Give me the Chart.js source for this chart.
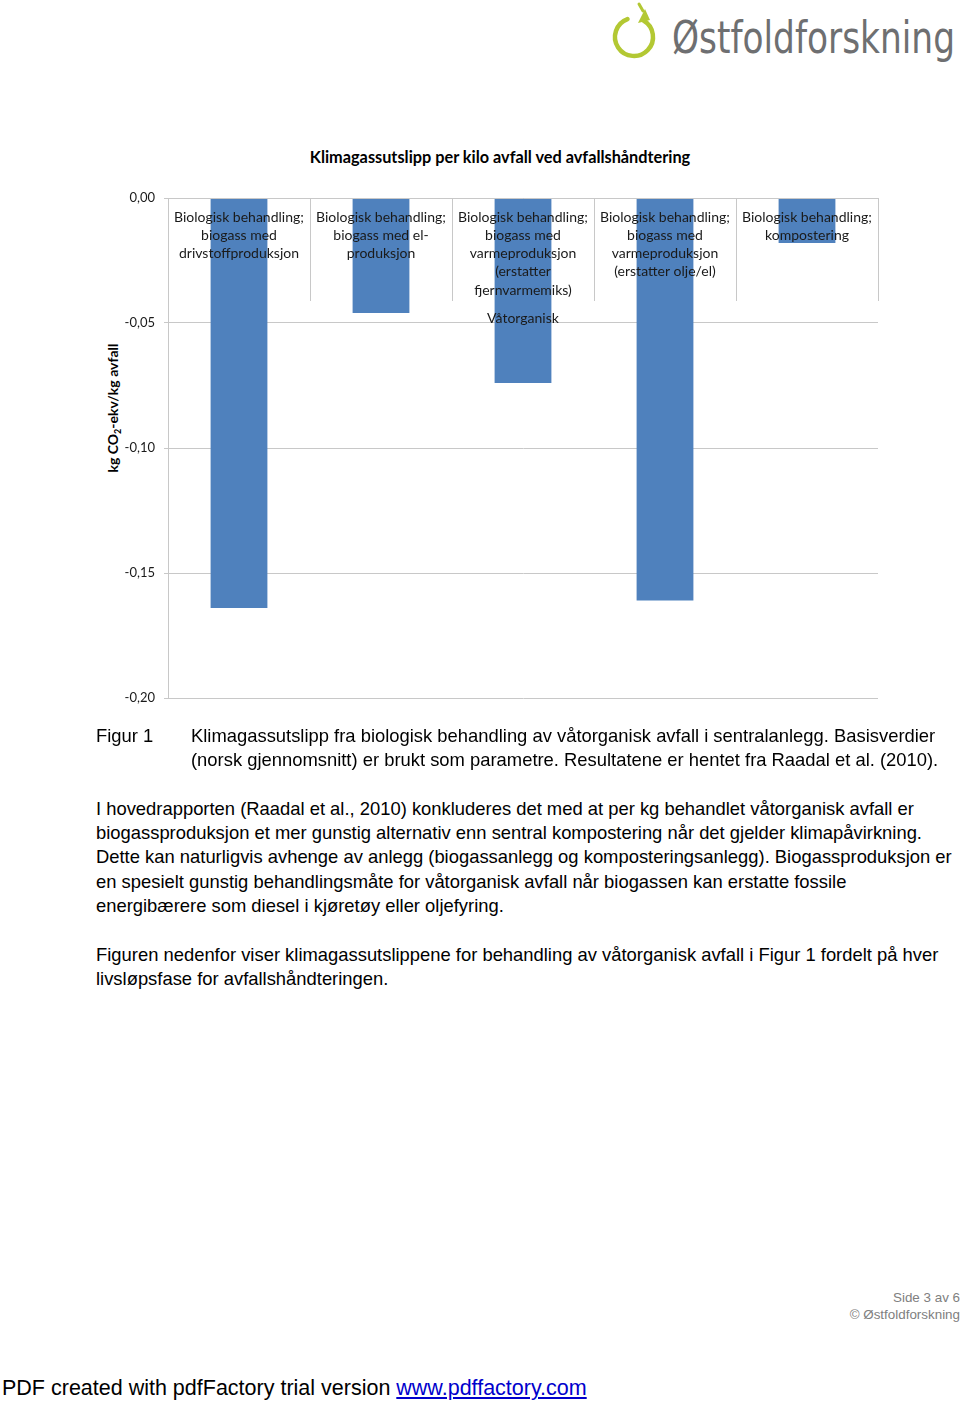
<!DOCTYPE html>
<html><head><meta charset="utf-8">
<script src="https://cdn.jsdelivr.net/npm/chart.js@4.4.1/dist/chart.umd.min.js"></script>
<style>
html,body{margin:0;padding:0;background:#fff;}
body{width:960px;height:1402px;position:relative;overflow:hidden;font-family:"Liberation Sans",Arial,sans-serif;color:#000;}
.abs{position:absolute;white-space:nowrap;}
.txt{font-size:18.4px;line-height:24px;height:24px;}
</style></head><body>

<svg class="abs" style="left:600px;top:0" width="360" height="80" viewBox="0 0 360 80">
  <path d="M27.5 19.1 A19 19 0 1 0 43.5 20.5" fill="none" stroke="#b3c833" stroke-width="4.5" stroke-linecap="round"/>
  <polygon points="38,23 50,20 45,9" fill="#b3c833"/>
  <path d="M39 4 L43 11" stroke="#b3c833" stroke-width="3" stroke-linecap="round"/>
  <text x="72" y="53" font-family="DejaVu Sans Condensed, DejaVu Sans, sans-serif" font-size="45" fill="#6e6f71" textLength="283" lengthAdjust="spacingAndGlyphs">Østfoldforskning</text>
</svg>

<div class="abs" style="left:0;width:1000px;top:147px;text-align:center;font-family:Lato,sans-serif;font-weight:bold;font-size:16.3px;line-height:20px;color:#000;">Klimagassutslipp per kilo avfall ved avfallshåndtering</div>

<div class="abs" style="left:113px;top:408px;width:0;height:0;">
  <div style="position:absolute;left:-100px;top:-10px;width:200px;height:20px;line-height:20px;text-align:center;transform:rotate(-90deg);font-family:Lato,sans-serif;font-weight:bold;font-size:14px;color:#000;">kg CO<sub style="font-size:9px;vertical-align:-3px;line-height:0">2</sub>-ekv/kg avfall</div>
</div>

<div class="abs" style="left:0;top:130px;width:960px;height:600px;"><canvas id="c"></canvas></div>

<div class="abs txt" style="left:96px;top:724px;">Figur 1</div>
<div class="abs txt" style="left:191px;top:724px;">Klimagassutslipp fra biologisk behandling av våtorganisk avfall i sentralanlegg. Basisverdier</div>
<div class="abs txt" style="left:191px;top:748px;">(norsk gjennomsnitt) er brukt som parametre. Resultatene er hentet fra Raadal et al. (2010).</div>

<div class="abs txt" style="left:96px;top:797px;">I hovedrapporten (Raadal et al., 2010) konkluderes det med at per kg behandlet våtorganisk avfall er</div>
<div class="abs txt" style="left:96px;top:821px;">biogassproduksjon et mer gunstig alternativ enn sentral kompostering når det gjelder klimapåvirkning.</div>
<div class="abs txt" style="left:96px;top:845px;">Dette kan naturligvis avhenge av anlegg (biogassanlegg og komposteringsanlegg). Biogassproduksjon er</div>
<div class="abs txt" style="left:96px;top:870px;">en spesielt gunstig behandlingsmåte for våtorganisk avfall når biogassen kan erstatte fossile</div>
<div class="abs txt" style="left:96px;top:894px;">energibærere som diesel i kjøretøy eller oljefyring.</div>

<div class="abs txt" style="left:96px;top:943px;">Figuren nedenfor viser klimagassutslippene for behandling av våtorganisk avfall i Figur 1 fordelt på hver</div>
<div class="abs txt" style="left:96px;top:967px;">livsløpsfase for avfallshåndteringen.</div>

<div class="abs" style="right:0;top:1290px;font-size:13.4px;line-height:16px;color:#808080;text-align:right;">Side 3 av 6</div>
<div class="abs" style="right:0;top:1307px;font-size:13.4px;line-height:16px;color:#808080;text-align:right;">© Østfoldforskning</div>

<div class="abs" style="left:2px;top:1375px;font-size:21.5px;line-height:26px;color:#000;">PDF created with pdfFactory trial version <span style="color:#0000cc;text-decoration:underline;">www.pdffactory.com</span></div>

<script>
const categories = [
  ["Biologisk behandling;", "biogass med", "drivstoffproduksjon"],
  ["Biologisk behandling;", "biogass med el-", "produksjon"],
  ["Biologisk behandling;", "biogass med", "varmeproduksjon", "(erstatter", "fjernvarmemiks)"],
  ["Biologisk behandling;", "biogass med", "varmeproduksjon", "(erstatter olje/el)"],
  ["Biologisk behandling;", "kompostering"]
];
const groupLabel = "Våtorganisk";
const values = [-0.164, -0.046, -0.074, -0.161, -0.018];
const yTicks = [0, -0.05, -0.10, -0.15, -0.20];

const gridColor = '#c8c8c8';
const textColor = '#1a1a1a';

new Chart(document.getElementById('c'), {
  type: 'bar',
  data: {
    labels: categories,
    datasets: [{
      data: values,
      backgroundColor: '#4f81bd',
      borderWidth: 0,
      barPercentage: 0.4,
      categoryPercentage: 1
    }]
  },
  options: {
    responsive: true,
    maintainAspectRatio: false,
    animation: false,
    layout: { padding: { left: 0, right: 82, top: 0, bottom: 32 } },
    plugins: { legend: { display: false }, tooltip: { enabled: false }, title: { display: false } },
    scales: {
      x: {
        position: 'top',
        offset: true,
        grid: { z: 1, display: true, drawOnChartArea: false, drawTicks: true, tickLength: -103, offset: true, color: gridColor, tickColor: gridColor, tickWidth: 1 },
        border: { z: 1, display: true, color: gridColor },
        ticks: { z: 1, mirror: true, autoSkip: false, maxRotation: 0, minRotation: 0, crossAlign: 'far', padding: -63.35, color: textColor, font: { family: 'Lato', size: 14, lineHeight: 1.307 } },
        title: { display: true, text: groupLabel, color: textColor, font: { family: 'Lato', size: 14, lineHeight: 1.2 }, padding: { top: 179.6, bottom: 0 } },
        afterFit(s) { s.height = 68; s.paddingLeft = 0; s.paddingRight = 0; }
      },
      y: {
        min: Math.min(...yTicks),
        max: Math.max(...yTicks),
        afterBuildTicks(s) { s.ticks = yTicks.map(v => ({ value: v })); },
        grid: { color: gridColor, tickLength: 4, tickColor: gridColor },
        border: { display: true, color: gridColor },
        ticks: { padding: 9, color: textColor, font: { family: 'Lato', size: 13 },
          callback: v => Number(v).toFixed(2).replace('.', ',') },
        afterFit(s) { s.width = 168; s.paddingTop = 0; s.paddingBottom = 0; }
      }
    }
  }
});
</script>
</body></html>
